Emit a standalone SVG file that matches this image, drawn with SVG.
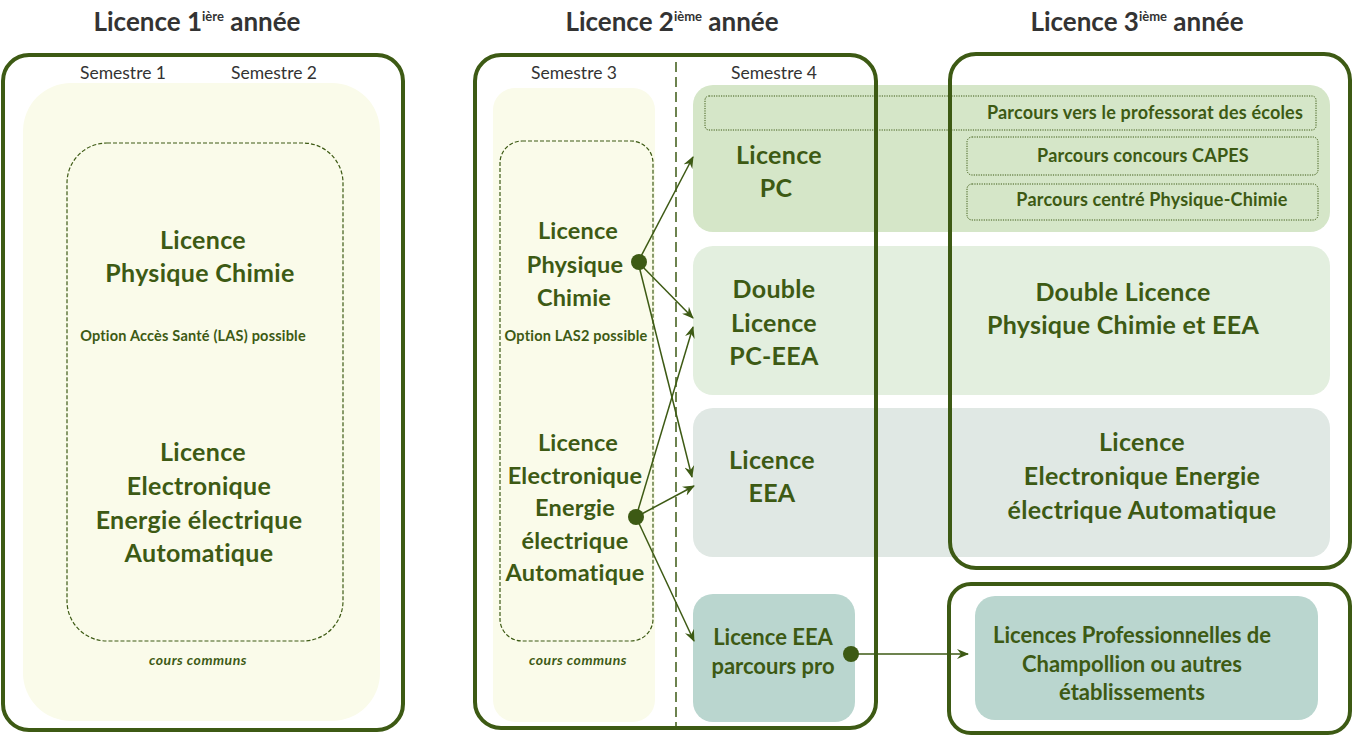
<svg xmlns="http://www.w3.org/2000/svg" width="1353" height="736" viewBox="0 0 1353 736">
<defs>
<style>
.title{font-family:Lato,"Open Sans",sans-serif;font-weight:700;font-size:26px;fill:#333;text-anchor:middle}
.sup{font-size:13px}
.sem{font-family:Lato,"Open Sans",sans-serif;font-size:17.5px;fill:#333;text-anchor:middle}
.big{font-family:Lato,"Open Sans",sans-serif;font-weight:700;font-size:25px;letter-spacing:0.3px;fill:#3d5a14;text-anchor:middle}
.s3{font-size:23.5px;letter-spacing:0.2px}
.mid{font-family:Lato,"Open Sans",sans-serif;font-weight:700;font-size:22px;fill:#3d5a14;text-anchor:middle}
.par{font-family:Lato,"Open Sans",sans-serif;font-weight:700;font-size:18px;letter-spacing:0.2px;fill:#3d5a14;text-anchor:middle}
.opt{font-family:Lato,"Open Sans",sans-serif;font-weight:700;font-size:14.5px;letter-spacing:0.2px;fill:#3d5a14;text-anchor:middle}
.cc{font-family:Lato,"Open Sans",sans-serif;font-weight:700;font-style:italic;font-size:14px;letter-spacing:0.5px;fill:#3d5a14;text-anchor:middle}
.frame{fill:none;stroke:#3d5a14;stroke-width:4}
.cream{fill:#fafbea}
.dash{fill:none;stroke:#3d5a14;stroke-width:1.2;stroke-dasharray:4 2}
.dot{fill:none;stroke:#3d5a14;stroke-width:1;stroke-dasharray:1.2 1.2}
.conn{fill:none;stroke:#3d5a14;stroke-width:1.5}
.node{fill:#3d5a14}
</style>
<marker id="arr" viewBox="0 0 12 10" refX="11" refY="5" markerWidth="12" markerHeight="10" markerUnits="userSpaceOnUse" orient="auto">
<path d="M0,0 L12,5 L0,10 L4,5 z" fill="#3d5a14"/>
</marker>
</defs>
<rect width="1353" height="736" fill="#fff"/>

<g id="titles">
<text class="title" x="197" y="31">Licence 1<tspan class="sup" dy="-10">ière</tspan><tspan dy="10"> année</tspan></text>
<text class="title" x="672" y="31">Licence 2<tspan class="sup" dy="-10">ième</tspan><tspan dy="10"> année</tspan></text>
<text class="title" x="1137" y="31">Licence 3<tspan class="sup" dy="-10">ième</tspan><tspan dy="10"> année</tspan></text>
</g>

<g id="l1">
<rect class="cream" x="23" y="83" width="357" height="638" rx="48"/>
<rect class="dash" x="67" y="143" width="276" height="498" rx="40"/>
<text class="sem" x="123" y="79">Semestre 1</text>
<text class="sem" x="274" y="79">Semestre 2</text>
<g id="l1-pc">
<text class="big" x="203" y="249">Licence</text>
<text class="big" x="200" y="282">Physique Chimie</text>
<text class="opt" x="193" y="341">Option Accès Santé (LAS) possible</text>
</g>
<g id="l1-eea">
<text class="big" x="203" y="461">Licence</text>
<text class="big" x="199" y="495">Electronique</text>
<text class="big" x="199" y="529">Energie électrique</text>
<text class="big" x="199" y="562">Automatique</text>
</g>
<text class="cc" x="198" y="665">cours communs</text>
<rect class="frame" x="3" y="55" width="400" height="675" rx="26"/>
</g>

<g id="l2-s3">
<rect class="cream" x="493" y="88" width="162" height="634" rx="22"/>
<rect class="dash" x="500" y="141" width="153" height="500" rx="22"/>
<text class="sem" x="574" y="79">Semestre 3</text>
<text class="sem" x="774" y="79">Semestre 4</text>
<g id="l2-pc">
<text class="big s3" x="578" y="239">Licence</text>
<text class="big s3" x="575" y="273">Physique</text>
<text class="big s3" x="574" y="306">Chimie</text>
<text class="opt" x="576" y="341">Option LAS2 possible</text>
</g>
<g id="l2-eea">
<text class="big s3" x="578" y="451">Licence</text>
<text class="big s3" x="575" y="484">Electronique</text>
<text class="big s3" x="575" y="516">Energie</text>
<text class="big s3" x="575" y="549">électrique</text>
<text class="big s3" x="575" y="581">Automatique</text>
</g>
<text class="cc" x="578" y="665">cours communs</text>
</g>

<g id="band-pc">
<rect x="693" y="85" width="637" height="147" rx="20" fill="#d5e6c8"/>
<rect class="dot" x="705" y="96" width="611" height="34" rx="4"/>
<rect class="dot" x="967" y="137" width="351" height="38" rx="5"/>
<rect class="dot" x="967" y="184" width="351" height="36" rx="5"/>
<text class="par" x="1145" y="119">Parcours vers le professorat des écoles</text>
<text class="par" x="1143" y="162">Parcours concours CAPES</text>
<text class="par" x="1152" y="206">Parcours centré Physique-Chimie</text>
<text class="big" x="779" y="164">Licence</text>
<text class="big" x="776" y="197">PC</text>
</g>

<g id="band-double">
<rect x="693" y="246" width="637" height="149" rx="20" fill="#e3efdf"/>
<text class="big" x="774" y="298">Double</text>
<text class="big" x="774" y="332">Licence</text>
<text class="big" x="774" y="365">PC-EEA</text>
<text class="big" x="1123" y="301">Double Licence</text>
<text class="big" x="1123" y="334">Physique Chimie et EEA</text>
</g>

<g id="band-eea">
<rect x="693" y="408" width="637" height="149" rx="20" fill="#e0e8e4"/>
<text class="big" x="772" y="469">Licence</text>
<text class="big" x="772" y="502">EEA</text>
<text class="big" x="1142" y="451">Licence</text>
<text class="big" x="1142" y="485">Electronique Energie</text>
<text class="big" x="1142" y="519">électrique Automatique</text>
</g>

<g id="eea-pro">
<rect x="693" y="594" width="162" height="128" rx="20" fill="#bad6cf"/>
<text class="mid" x="773" y="645">Licence EEA</text>
<text class="mid" x="773" y="674">parcours pro</text>
</g>

<g id="lpro">
<rect x="975" y="596" width="343" height="124" rx="20" fill="#bad6cf"/>
<text class="mid" x="1132" y="643">Licences Professionnelles de</text>
<text class="mid" x="1132" y="672">Champollion ou autres</text>
<text class="mid" x="1132" y="700">établissements</text>
</g>

<g id="frames">
<line x1="676" y1="62" x2="676" y2="728" stroke="#3d5a14" stroke-width="1.5" stroke-dasharray="10 5"/>
<rect class="frame" x="475" y="55" width="401" height="673" rx="26"/>
<rect class="frame" x="950" y="54" width="400" height="514" rx="26"/>
<rect class="frame" x="949" y="584" width="401" height="149" rx="22"/>
</g>

<g id="connectors">
<line class="conn" x1="638" y1="262" x2="693" y2="157" marker-end="url(#arr)"/>
<line class="conn" x1="638" y1="262" x2="693" y2="318" marker-end="url(#arr)"/>
<line class="conn" x1="638" y1="262" x2="692" y2="477" marker-end="url(#arr)"/>
<line class="conn" x1="636" y1="517" x2="693" y2="327" marker-end="url(#arr)"/>
<line class="conn" x1="636" y1="517" x2="694" y2="486" marker-end="url(#arr)"/>
<line class="conn" x1="636" y1="517" x2="694" y2="641" marker-end="url(#arr)"/>
<line class="conn" x1="851" y1="654" x2="968" y2="654" marker-end="url(#arr)"/>
<circle class="node" cx="639" cy="262" r="8"/>
<circle class="node" cx="636" cy="517" r="8"/>
<circle class="node" cx="851" cy="654" r="8"/>
</g>
</svg>
